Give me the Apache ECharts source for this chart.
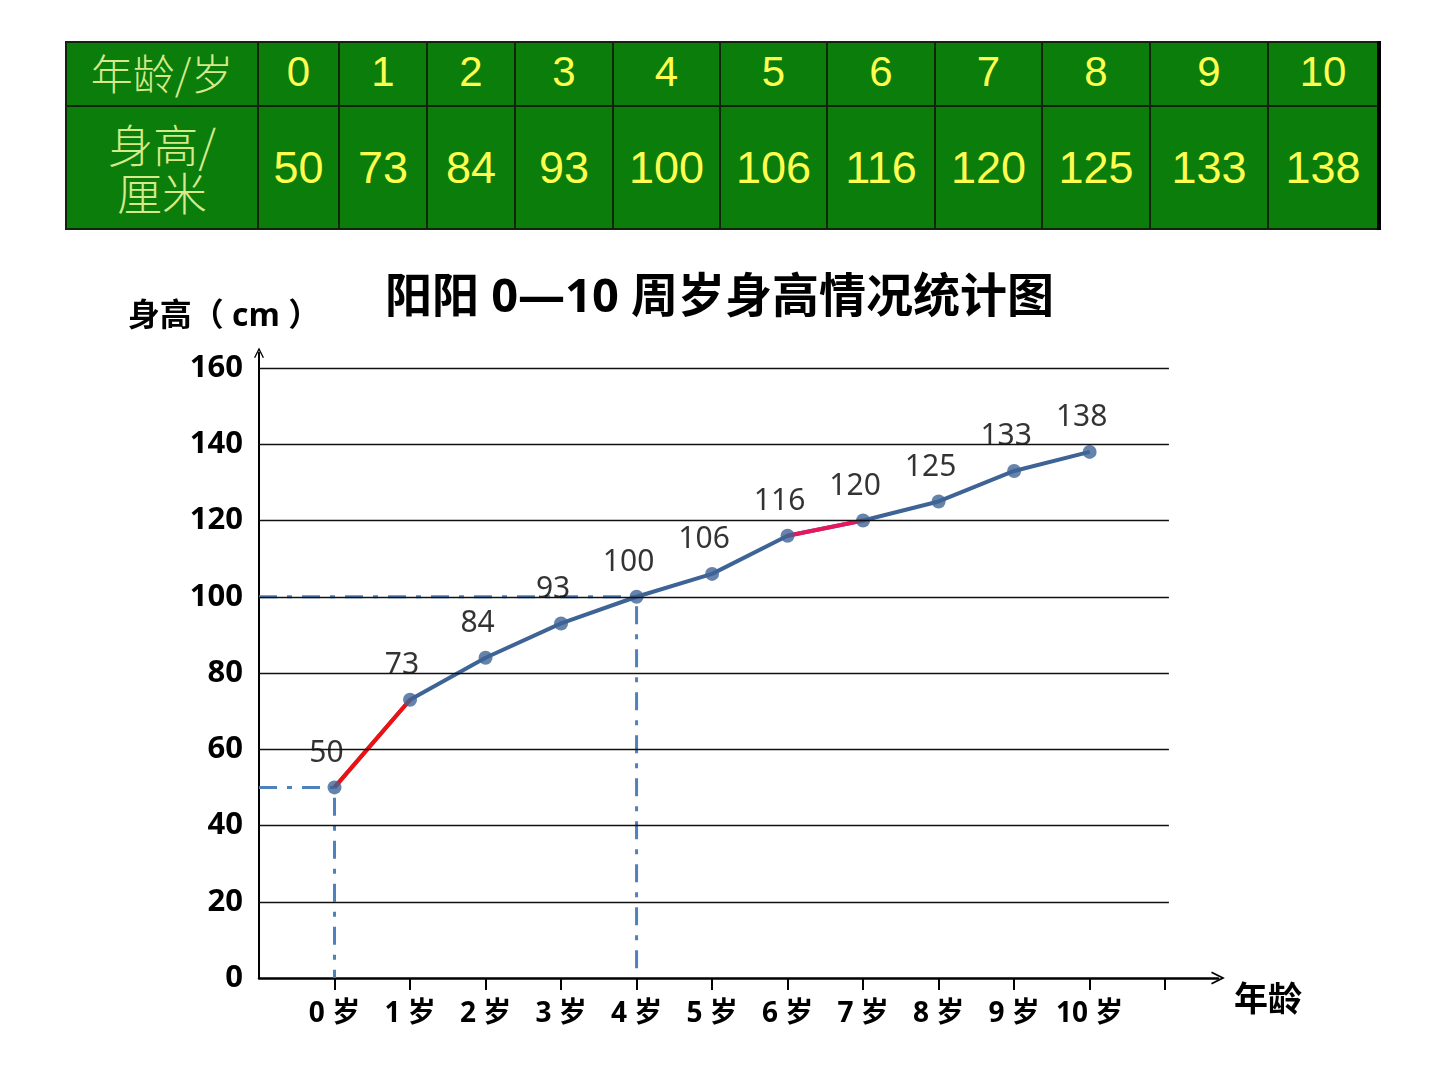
<!DOCTYPE html>
<html>
<head>
<meta charset="utf-8">
<title>阳阳 0—10 周岁身高情况统计图</title>
<script src="https://cdn.jsdelivr.net/npm/echarts@6/dist/echarts.min.js"></script>
<style>
    html, body { margin: 0; padding: 0; background: #fff; }
    #chart { position: absolute; left: 0; top: 0; width: 1440px; height: 1080px; }
    #tbl {
        position: absolute; left: 65px; top: 41px;
        border-collapse: collapse; table-layout: fixed;
        background: #0a7d0a;
        font-family: "Liberation Sans", Arial, sans-serif;
    }
    #tbl td {
        border: 2px solid #13240e; padding: 0;
        text-align: center; color: #ffff4f;
    }
    #tbl tr.r1 td { height: 58px; font-size: 42px; padding-bottom: 4px; }
    #tbl tr.r2 td { height: 121px; font-size: 45px; }
    #tbl td.head {
        color: #d6ea8a; font-size: 38px; line-height: 48px;
        font-family: "Noto Sans CJK SC", sans-serif; font-weight: 300;
    }
    #tbl td:last-child { border-right: 4px solid #000; }
</style>
</head>
<body>
<div id="chart"></div>
<table id="tbl"></table>
<script>
    // 数据
    const ages = [0, 1, 2, 3, 4, 5, 6, 7, 8, 9, 10];
    const heights = [50, 73, 84, 93, 100, 106, 116, 120, 125, 133, 138];
    const xLabels = ['0 岁', '1 岁', '2 岁', '3 岁', '4 岁', '5 岁', '6 岁', '7 岁', '8 岁', '9 岁', '10 岁'];
    const xTicks = [0, 1, 2, 3, 4, 5, 6, 7, 8, 9, 10, 11];
    const yTicks = [0, 20, 40, 60, 80, 100, 120, 140, 160];
    const redSpans = [[0, 1], [6, 7]];   // 标红的两段
    const guideIdx = [0, 4];             // 画虚线的点

    // 表格
    const colW = [192, 81, 88, 88, 98, 107, 107, 108, 107, 108, 118, 111];
    const tbl = document.getElementById('tbl');
    let html = '<colgroup>' + colW.map(w => '<col style="width:' + w + 'px">').join('') + '</colgroup>';
    html += '<tr class="r1"><td class="head">年龄/岁</td>' + ages.map(a => '<td>' + a + '</td>').join('') + '</tr>';
    html += '<tr class="r2"><td class="head">身高/<br>厘米</td>' + heights.map(h => '<td>' + h + '</td>').join('') + '</tr>';
    tbl.innerHTML = html;

    const pts = ages.map((a, i) => [a, heights[i]]);
    const blue = '#3e6496';
    const redColors = ['#f01010', '#e8175d'];
    const chevron = 'path://M0,12 L6,0 L12,12 L10.6,12.8 L6,3.6 L1.4,12.8 Z';
    const cjk = '"Open Sans", "Noto Sans CJK SC", sans-serif';

    const series = [];
    guideIdx.forEach(i => {
        series.push({
            type: 'line', silent: true, symbol: 'none', z: 1,
            lineStyle: { color: '#4f81bd', width: 3, type: [18, 10, 5, 10] },
            data: [[-1, heights[i]], [ages[i], heights[i]], [ages[i], 0]]
        });
    });
    series.push({
        type: 'line', showSymbol: false, z: 2,
        lineStyle: { color: blue, width: 4 },
        data: pts,
        markLine: {
            silent: true, symbol: 'none', animation: false,
            label: { show: false },
            lineStyle: { color: '#111', width: 1.3, type: 'solid' },
            data: yTicks.slice(1).map(v => [{ coord: [-1, v] }, { coord: [11.05, v] }])
        }
    });
    redSpans.forEach((s, k) => {
        series.push({
            type: 'line', symbol: 'none', z: 3,
            lineStyle: { color: redColors[k], width: 4 },
            data: pts.slice(s[0], s[1] + 1)
        });
    });
    series.push({
        type: 'scatter', z: 4, symbolSize: 14,
        itemStyle: { color: blue },
        label: {
            show: true, position: 'top', distance: 12, offset: [-8, 0],
            color: '#000', fontSize: 30, fontFamily: '"Noto Sans", "Open Sans", sans-serif',
            formatter: p => p.value[1]
        },
        data: pts
    });

    const myChart = echarts.init(document.getElementById('chart'));
    const option = {
        animation: false,
        title: {
            text: '阳阳 0—10 周岁身高情况统计图',
            left: 380, top: 270,
            textStyle: { fontSize: 47, fontWeight: 'bold', color: '#000', fontFamily: cjk }
        },
        grid: { left: 259, right: 222, top: 352.75, bottom: 102, outerBoundsMode: 'none' },
        xAxis: {
            type: 'value', min: -1, max: 11.7,
            name: '年龄', nameLocation: 'end', nameGap: 16,
            nameTextStyle: { fontSize: 34, fontWeight: 'bold', color: '#000', fontFamily: cjk, verticalAlign: 'top', padding: [6, 0, 0, 0] },
            axisLine: { show: true, onZero: false, symbol: ['none', chevron], symbolSize: [13, 14], lineStyle: { color: '#000', width: 2.5 } },
            axisTick: { show: true, customValues: xTicks, length: 12, lineStyle: { color: '#000', width: 2 } },
            axisLabel: {
                customValues: ages, margin: 22,
                formatter: v => xLabels[v],
                fontSize: 28, fontWeight: 'bold', color: '#000', fontFamily: cjk
            },
            splitLine: { show: false }
        },
        yAxis: {
            type: 'value', min: 0, max: 164,
            name: '身高（ cm ）', nameLocation: 'end', nameGap: 20,
            nameTextStyle: { fontSize: 32, fontWeight: 'bold', color: '#000', fontFamily: cjk, align: 'center', padding: [0, 70, 0, 0] },
            axisLine: { show: true, onZero: false, symbol: ['none', chevron], symbolSize: [10, 12], lineStyle: { color: '#000', width: 2 } },
            axisTick: { show: false },
            axisLabel: {
                customValues: yTicks, margin: 16,
                fontSize: 31, fontWeight: 'bold', color: '#000', fontFamily: '"Open Sans", sans-serif'
            },
            splitLine: { show: false }
        },
        series: series
    };
    myChart.setOption(option);
</script>
</body>
</html>
